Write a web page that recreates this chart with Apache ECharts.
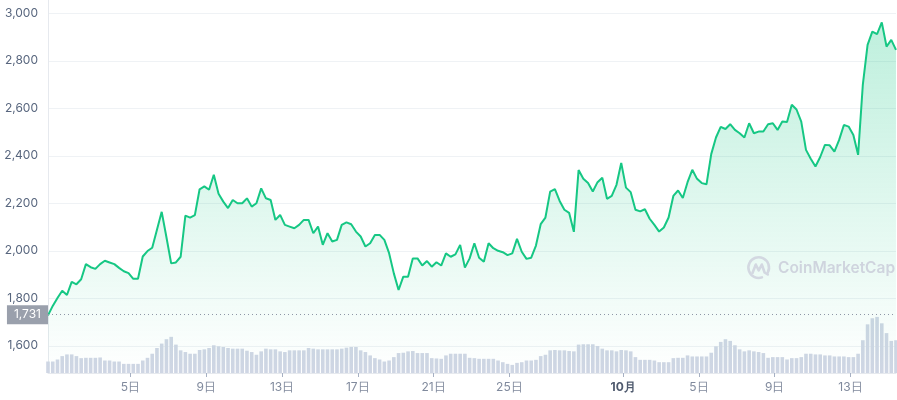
<!DOCTYPE html>
<html><head><meta charset="utf-8">
<script src="https://cdn.jsdelivr.net/npm/echarts@6/dist/echarts.min.js"></script>
<style>html,body{margin:0;padding:0;background:#fff}#c{width:897px;height:400px}</style>
</head><body><div id="c"></div>
<script>
// time in days since 1 Sep 00:00, sampled every 6 hours
const startDay = -0.35;
const stepDay = 0.25;
const prices = [
1728,1768,1801,1832,1814,1869,1859,1880,1944,1931,
1924,1944,1958,1951,1944,1928,1914,1906,1882,1882,
1976,1999,2013,2089,2164,2057,1947,1951,1975,2148,
2140,2150,2259,2271,2257,2320,2240,2207,2180,2214,
2200,2200,2221,2186,2200,2263,2221,2214,2130,2151,
2109,2102,2095,2109,2130,2130,2074,2102,2025,2074,
2039,2046,2109,2120,2112,2081,2060,2018,2032,2067,
2067,2046,1990,1905,1835,1891,1891,1968,1968,1938,
1957,1933,1952,1938,1989,1975,1985,2025,1929,1968,
2032,1971,1954,2032,2011,2000,1994,1982,1989,2050,
1996,1966,1971,2022,2112,2140,2249,2260,2210,2173,
2160,2080,2340,2303,2285,2250,2289,2308,2219,2231,
2278,2370,2266,2247,2173,2166,2175,2135,2109,2081,
2098,2140,2231,2254,2222,2289,2341,2303,2285,2280,
2407,2477,2522,2513,2533,2509,2495,2477,2537,2495,
2502,2502,2533,2537,2509,2544,2542,2615,2595,2544,
2425,2388,2355,2395,2446,2444,2418,2467,2530,2523,
2488,2404,2700,2867,2923,2912,2962,2860,2888,2846
];
const volumes = [
34,34,40,50,55,55,50,44,45,45,
45,46,37,37,34,34,27,27,27,27,
37,45,57,74,87,100,107,84,67,62,
57,57,68,70,74,82,79,77,74,72,
72,72,66,62,54,64,72,70,70,64,
62,67,67,67,67,74,72,70,70,70,
70,70,72,75,77,77,67,62,52,44,
40,34,37,47,59,60,64,65,59,59,
59,44,43,42,52,57,57,57,57,45,
44,42,42,42,42,37,32,27,24,30,
32,37,37,39,50,54,67,68,67,67,
65,64,84,85,85,85,80,72,67,67,
64,68,67,64,47,39,39,39,37,32,
32,32,44,45,45,52,49,49,49,49,
60,79,92,100,95,82,70,64,67,64,
62,59,45,47,47,47,40,44,44,47,
57,57,55,55,52,52,49,49,49,47,
47,57,97,144,162,166,147,118,95,97
];
const openPrice = 1731;
const tickDays = [4, 8, 12, 16, 20, 24, 30, 34, 38, 42];
const tickLabels = ['5日', '9日', '13日', '17日', '21日', '25日', '10月', '5日', '9日', '13日'];
const yTicks = [1600, 1800, 2000, 2200, 2400, 2600, 2800, 3000];

const times = prices.map((_, i) => +(startDay + i * stepDay).toFixed(3));
const priceData = times.map((t, i) => [t, prices[i]]);
const volData = times.map((t, i) => [t, volumes[i]]);

const chart = echarts.init(document.getElementById('c'), null, {renderer: 'canvas'});
const FONT = 'Inter, Roboto, sans-serif';
chart.setOption({
  animation: false,
  grid: {left: 48, right: 1, top: 0, bottom: 27},
  xAxis: {
    type: 'value', min: -0.35, max: 44.4,
    axisLine: {show: true, onZero: false, lineStyle: {color: '#e6e9ee'}},
    axisTick: {show: true, customValues: tickDays, length: 4, lineStyle: {color: '#a6b0c3'}},
    axisLabel: {
      customValues: tickDays, color: '#808a9d', fontSize: 12, margin: 8, fontFamily: FONT,
      formatter: v => {
        const k = tickDays.indexOf(Math.round(v));
        const s = k >= 0 ? tickLabels[k] : '';
        return s === '10月' ? '{b|' + s + '}' : s;
      },
      rich: {b: {fontWeight: 'bold', color: '#4f5a6e', fontSize: 12, fontFamily: FONT}}
    },
    splitLine: {show: false}
  },
  yAxis: [{
    type: 'value', min: 1485.5, max: 3056, position: 'left',
    axisLine: {show: true, onZero: false, lineStyle: {color: '#e6e9ee'}},
    axisTick: {show: false, customValues: yTicks},
    axisLabel: {customValues: yTicks, color: '#58667e', fontSize: 12, margin: 10, fontFamily: FONT,
      formatter: v => Number(v).toLocaleString('en-US')},
    splitLine: {show: true, lineStyle: {color: '#eff2f5'}}
  }, {
    type: 'value', min: 0, max: 1103.6, show: false
  }],
  graphic: [
    {type: 'arc', z: 100, shape: {cx: 758.7, cy: 267.6, r: 10.3, startAngle: 1.25, endAngle: 0.5 + Math.PI * 2, clockwise: true},
      style: {stroke: '#d3d8e1', lineWidth: 2.6, fill: null, lineCap: 'round'}},
    {type: 'polyline', z: 100, shape: {points: [[752.5, 273], [755.8, 264.5], [758.7, 270.5], [761.8, 264.5], [764.6, 272.5], [767.8, 274.5]]},
      style: {stroke: '#d3d8e1', lineWidth: 2.6, fill: null, lineJoin: 'round', lineCap: 'round'}},
    {type: 'text', z: 100, x: 778, y: 268,
      style: {text: 'CoinMarketCap', fill: '#cfd4de', font: '600 15.5px Inter, Roboto, sans-serif', verticalAlign: 'middle'}}
  ],
  series: [{
    type: 'bar', xAxisIndex: 0, yAxisIndex: 1, data: volData, barWidth: 3.6,
    itemStyle: {color: '#cfd6e4'}, z: 1, silent: true
  }, {
    type: 'line', xAxisIndex: 0, yAxisIndex: 0, data: priceData,
    symbol: 'none', showSymbol: false, z: 3,
    lineStyle: {width: 2, color: '#16c784'},
    itemStyle: {color: '#16c784'},
    areaStyle: {opacity: 1, color: new echarts.graphic.LinearGradient(0, 0, 0, 1, [
      {offset: 0, color: 'rgba(22,199,132,0.28)'},
      {offset: 1, color: 'rgba(22,199,132,0)'}
    ])},
    markLine: {
      silent: true, symbol: ['none', 'none'],
      lineStyle: {color: '#8e96a6', type: [1, 3], width: 1},
      label: {show: true, position: 'start', distance: 0, formatter: '1,731', color: '#fff',
        backgroundColor: '#9aa0ac', padding: [3, 7, 3, 7], fontSize: 12, lineHeight: 13, fontFamily: FONT},
      data: [{yAxis: openPrice}]
    }
  }]
});
</script>
</body></html>
